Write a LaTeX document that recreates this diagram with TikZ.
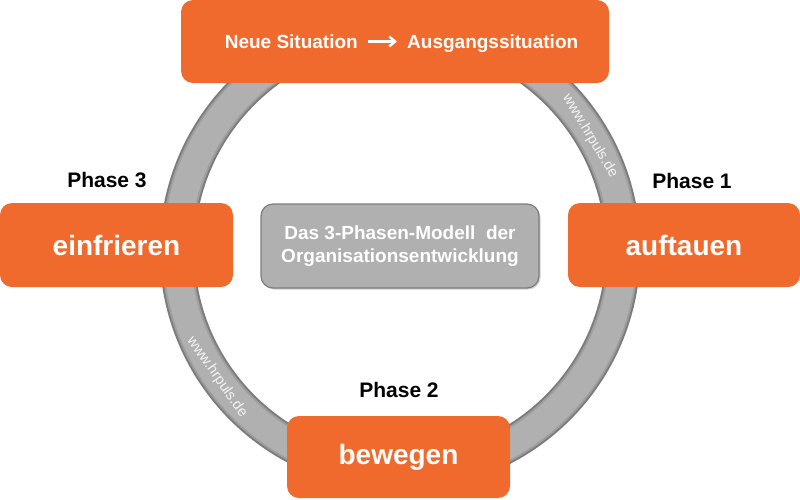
\documentclass[tikz,border=0pt]{standalone}
\usepackage{fontspec}
\setmainfont{Liberation Sans}
\usetikzlibrary{arrows.meta,shadows}
\definecolor{hrorange}{HTML}{F0692D}
\definecolor{ringgray}{HTML}{B0B0B0}
\definecolor{ringmid}{HTML}{9E9E9E}
\definecolor{ringedge}{HTML}{7C7C7C}
\definecolor{wwwtext}{HTML}{F4F4F4}
\begin{document}
\begin{tikzpicture}[x=1pt,y=-1pt,
  obox/.style={fill=hrorange, rounded corners=12pt, text=white,
    font=\bfseries\fontsize{28}{30}\selectfont, inner sep=0pt},
  phase/.style={font=\bfseries\fontsize{21}{24}\selectfont, text=black, inner sep=0pt},
  toptext/.style={font=\bfseries\fontsize{19}{22}\selectfont, text=white, inner sep=0pt},
  centerbox/.style={fill=ringgray, draw=ringedge, line width=1.2pt, rounded corners=12pt,
    text=white, font=\bfseries\fontsize{19}{22.5}\selectfont, align=center, inner sep=0pt,
    drop shadow={shadow xshift=1.5pt, shadow yshift=-1.5pt, opacity=0.35}},
  wwwlabel/.style={font=\fontsize{14.5}{16}\selectfont, text=wwwtext, inner sep=0pt}
]
\useasboundingbox (0,0) rectangle (800,499);
% ring
\coordinate (c) at (400,250);
\draw[line width=35pt, ringedge] (c) circle[radius=223];
\draw[line width=31pt, ringmid] (c) circle[radius=223];
\draw[line width=27pt, ringgray] (c) circle[radius=223];
\node[wwwlabel, rotate=-59] (w1) at (590,136) {www.hrpuls.de};
\node[wwwlabel, rotate=-55] (w2) at (217,377) {www.hrpuls.de};
% boxes
\node[obox, minimum width=428pt, minimum height=83pt] (top) at (395,41.5) {};
\node[toptext, anchor=east] (ns) at (358,41.5) {Neue Situation};
\node[toptext, anchor=base west] (as) at (407,48) {Ausgangssituation};
\draw[white, line width=2.4pt, -{Straight Barb[length=6pt,width=10pt]}]
  ([xshift=10pt]ns.east) -- ([xshift=-10pt]ns.east -| as.west);
\node[obox, minimum width=233pt, minimum height=84pt] (einf) at (116.5,245) {einfrieren};
\node[obox, minimum width=232pt, minimum height=84pt] (auft) at (684,245) {auftauen};
\node[obox, minimum width=223pt, minimum height=82pt] (bew) at (398.5,457) {bewegen};
\node[centerbox, minimum width=278pt, minimum height=84pt] (model) at (400,246)
  {Das 3-Phasen-Modell\ \ der\\Organisationsentwicklung};
% phase labels
\node[phase] (p3) at (107,180.5) {Phase 3};
\node[phase] (p1) at (692,180.5) {Phase 1};
\node[phase] (p2) at (399,390) {Phase 2};
\end{tikzpicture}
\end{document}
